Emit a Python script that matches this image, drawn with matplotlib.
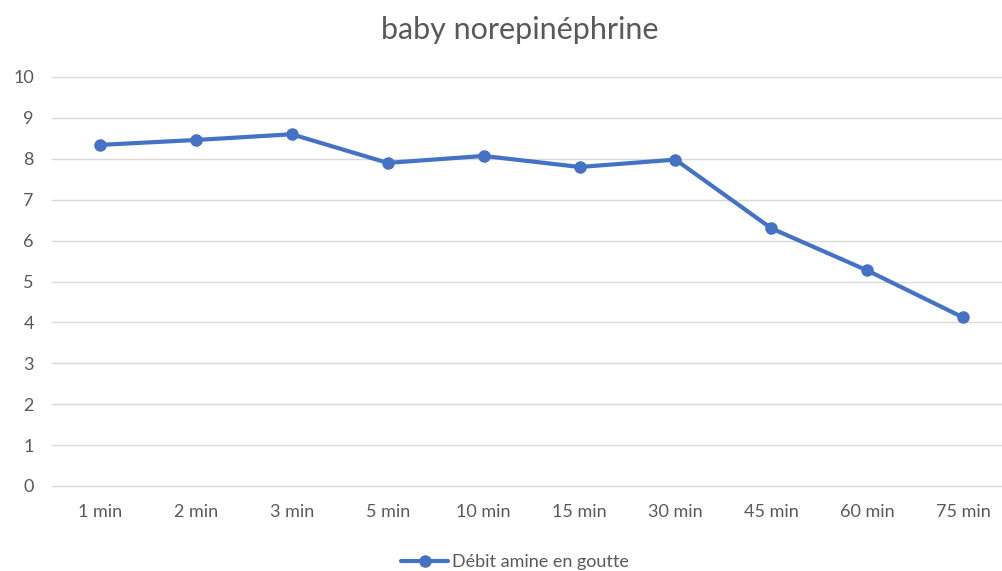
import matplotlib.pyplot as plt

plt.rcParams['font.family'] = ['Lato', 'DejaVu Sans']

categories = ['1 min', '2 min', '3 min', '5 min', '10 min', '15 min', '30 min', '45 min', '60 min', '75 min']
debit = [8.34, 8.46, 8.6, 7.9, 8.07, 7.8, 7.98, 6.3, 5.27, 4.12]

fig = plt.figure(figsize=(10.02, 5.71), dpi=100)
ax = fig.add_axes([52 / 1002, 85 / 571, 950 / 1002, 409 / 571])

x = list(range(len(categories)))
ax.plot(x, debit, color='#4472C4', linewidth=3, marker='o', markersize=8,
        label='Débit amine en goutte', solid_capstyle='round', zorder=3)

ax.set_ylim(0, 10)
ax.set_xlim(-0.5, 9.405)
ax.set_yticks(range(0, 11))
ax.set_xticks(x)
ax.set_xticklabels(categories)
ax.yaxis.grid(True, color='#d9d9d9', linewidth=1)
for gl in ax.yaxis.get_gridlines():
    gl.set_clip_on(False)
ax.set_axisbelow(True)
for s in ax.spines.values():
    s.set_visible(False)
ax.tick_params(axis='both', length=0, labelsize=13, colors='#595959')
ax.tick_params(axis='x', pad=13)
ax.tick_params(axis='y', pad=13)

fig.text(520 / 1002, 1 - 30 / 571, 'baby norepinéphrine', ha='center', va='center',
         fontsize=22, color='#595959')

fig.legend(loc='center', bbox_to_anchor=(515 / 1002, 1 - 562 / 571), frameon=False,
           fontsize=13, labelcolor='#595959', handlelength=2.6, handletextpad=0.2)

fig.savefig('out.png', dpi=100)
